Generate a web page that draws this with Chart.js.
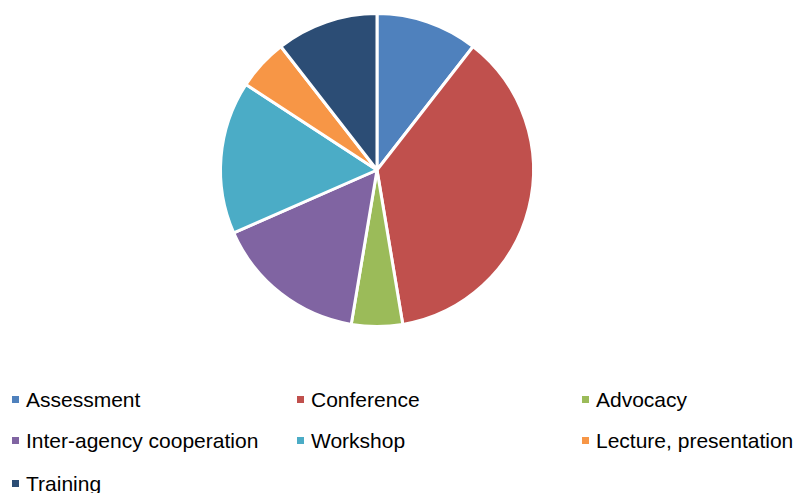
<!DOCTYPE html>
<html>
<head>
<meta charset="utf-8">
<script src="https://cdn.jsdelivr.net/npm/chart.js@4/dist/chart.umd.min.js"></script>
<style>
  body { margin: 0; background: #fff; }
  #wrap { position: relative; width: 797px; height: 493px; overflow: hidden; }
  #chartBox { position: absolute; left: 0; top: 0; width: 797px; height: 330px; }
  #legend { position: absolute; left: 0; top: 0; width: 797px; font-family: "Liberation Sans", Arial, sans-serif; font-size: 21px; color: #000; }
  .item { position: absolute; white-space: nowrap; line-height: 22px; }
  .item span.box { display: inline-block; width: 7px; height: 7px; margin-right: 7px; vertical-align: 4px; }
</style>
</head>
<body>
<div id="wrap">
  <div id="chartBox"><canvas id="chart"></canvas></div>
  <div id="legend"></div>
</div>
<script>
// data
const categories = ["Assessment", "Conference", "Advocacy", "Inter-agency cooperation", "Workshop", "Lecture, presentation", "Training"];
const counts = [2, 7, 1, 3, 3, 1, 2];
const colors = ["#4F81BD", "#C0504D", "#9BBB59", "#8064A2", "#4BACC6", "#F79646", "#2C4D75"];

const chartCanvas = document.getElementById("chart");
new Chart(chartCanvas, {
    type: "pie",
    data: {
        labels: categories,
        datasets: [{
            data: counts,
            backgroundColor: colors,
            borderColor: "#ffffff",
            borderWidth: 3
        }]
    },
    options: {
        responsive: true,
        maintainAspectRatio: false,
        animation: false,
        layout: { padding: { top: 12, bottom: 2, left: 0, right: 43 } },
        plugins: {
            legend: { display: false },
            tooltip: { enabled: false }
        }
    }
});

// legend, 3 columns
const legendDiv = document.getElementById("legend");
const colX = [12, 297, 582];
const rowY = [389, 430, 473];
categories.forEach((name, i) => {
    const el = document.createElement("div");
    el.className = "item";
    el.style.left = colX[i % 3] + "px";
    el.style.top = rowY[Math.floor(i / 3)] + "px";
    const box = document.createElement("span");
    box.className = "box";
    box.style.background = colors[i];
    el.appendChild(box);
    el.appendChild(document.createTextNode(name));
    legendDiv.appendChild(el);
});
</script>
</body>
</html>
